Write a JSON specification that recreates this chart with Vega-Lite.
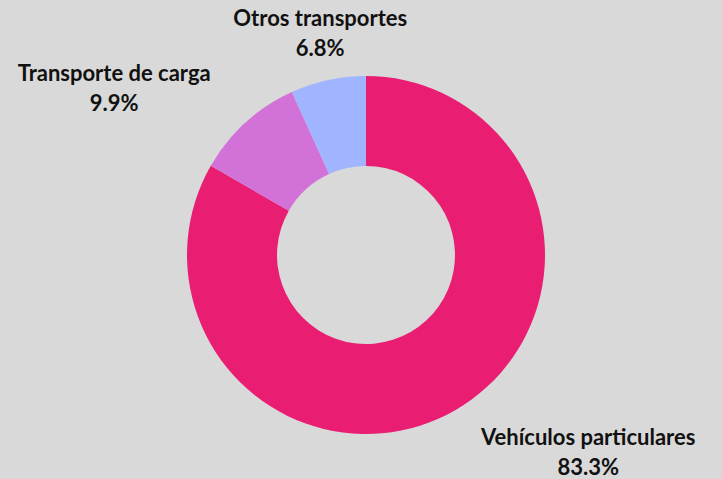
{
  "$schema": "https://vega.github.io/schema/vega-lite/v6.json",
  "width": 712,
  "height": 448,
  "autosize": "none",
  "padding": {"left": 10, "top": 31, "right": 0, "bottom": 0},
  "background": "#d9d9d9",
  "config": {"view": {"stroke": null}, "text": {"font": "Lato"}},
  "data": {
    "values": [
      {"categoria": "Vehículos particulares", "valor": 83.3, "orden": 1},
      {"categoria": "Transporte de carga", "valor": 9.9, "orden": 2},
      {"categoria": "Otros transportes", "valor": 6.8, "orden": 3}
    ]
  },
  "transform": [
    {"stack": "valor", "groupby": [], "sort": [{"field": "orden"}], "as": ["v0", "v1"]},
    {"calculate": "(datum.v0 + datum.v1) / 2", "as": "mid"},
    {"calculate": "[datum.categoria, format(datum.valor, '.1f') + '%']", "as": "etiqueta"}
  ],
  "layer": [
    {
      "mark": {"type": "arc", "innerRadius": 89, "outerRadius": 179},
      "encoding": {
        "theta": {"field": "v0", "type": "quantitative", "scale": {"domain": [0, 100]}},
        "theta2": {"field": "v1"},
        "color": {
          "field": "categoria",
          "type": "nominal",
          "scale": {
            "domain": ["Vehículos particulares", "Transporte de carga", "Otros transportes"],
            "range": ["#e91e73", "#d272d8", "#a0b4ff"]
          },
          "legend": null
        }
      }
    },
    {
      "transform": [{"filter": "datum.orden == 1"}],
      "mark": {"type": "text", "radius": 230, "dx": 107, "dy": -16, "fontSize": 22, "fontWeight": "bold", "color": "#111111", "lineHeight": 30, "baseline": "middle", "align": "center"},
      "encoding": {
        "theta": {"field": "mid", "type": "quantitative", "scale": {"domain": [0, 100]}},
        "text": {"field": "etiqueta"}
      }
    },
    {
      "transform": [{"filter": "datum.orden == 2"}],
      "mark": {"type": "text", "radius": 230, "dx": -97, "dy": -11, "fontSize": 22, "fontWeight": "bold", "color": "#111111", "lineHeight": 30, "baseline": "middle", "align": "center"},
      "encoding": {
        "theta": {"field": "mid", "type": "quantitative", "scale": {"domain": [0, 100]}},
        "text": {"field": "etiqueta"}
      }
    },
    {
      "transform": [{"filter": "datum.orden == 3"}],
      "mark": {"type": "text", "radius": 230, "dx": 3, "dy": -11, "fontSize": 22, "fontWeight": "bold", "color": "#111111", "lineHeight": 30, "baseline": "middle", "align": "center"},
      "encoding": {
        "theta": {"field": "mid", "type": "quantitative", "scale": {"domain": [0, 100]}},
        "text": {"field": "etiqueta"}
      }
    }
  ]
}
